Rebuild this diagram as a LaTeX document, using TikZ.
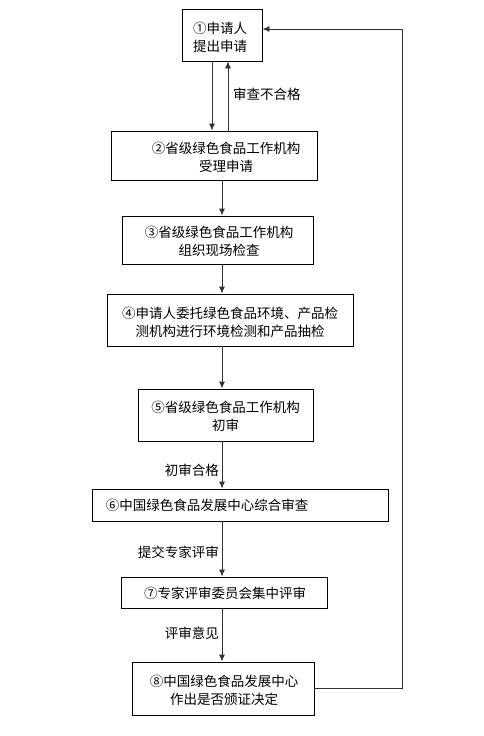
\documentclass[tikz,border=0pt]{standalone}
\usepackage{fontspec}
\newfontfamily\cjk{Noto Sans CJK SC}
\usetikzlibrary{arrows.meta}
\tikzset{
  box/.style={draw=black, line width=0.9pt, inner sep=0pt},
  txt/.style={font=\cjk\fontsize{13.5}{18}\selectfont, align=center, inner sep=0pt, text=black},
  lbl/.style={font=\cjk\fontsize{13.5}{18}\selectfont, inner sep=0pt, text=black},
  arr/.style={draw=black!80, line width=0.9pt, -{Latex[length=7pt,width=6pt]}},
}
\begin{document}
\begin{tikzpicture}[x=1pt,y=-1pt]
\useasboundingbox (0,0) rectangle (484,736);
% boxes
\node[box, minimum width=80pt, minimum height=52pt] (b1) at (222,35) {};
\node[box, minimum width=206pt, minimum height=49pt] (b2) at (214,155.5) {};
\node[box, minimum width=191pt, minimum height=48pt] (b3) at (217.5,240) {};
\node[box, minimum width=246pt, minimum height=52pt] (b4) at (230,320) {};
\node[box, minimum width=175pt, minimum height=52pt] (b5) at (225.5,415) {};
\node[box, minimum width=296pt, minimum height=32pt] (b6) at (240,505) {};
\node[box, minimum width=206pt, minimum height=31pt] (b7) at (224,592.5) {};
\node[box, minimum width=182pt, minimum height=53pt] (b8) at (223,688.5) {};
% texts
\node[txt] (t1) at (220,37) {①申请人\\提出申请};
\node[txt] (t2) at (226,157) {②省级绿色食品工作机构\\受理申请};
\node[txt] (t3) at (219,241) {③省级绿色食品工作机构\\组织现场检查};
\node[txt] (t4) at (230,322) {④申请人委托绿色食品环境、产品检\\测机构进行环境检测和产品抽检};
\node[txt] (t5) at (225.5,416) {⑤省级绿色食品工作机构\\初审};
\node[txt] (t6) at (207,505) {⑥中国绿色食品发展中心综合审查};
\node[txt] (t7) at (225,593) {⑦专家评审委员会集中评审};
\node[txt] (t8) at (224,690) {⑧中国绿色食品发展中心\\作出是否颁证决定};
% connectors
\draw[arr] (212,0 |- b1.south) -- (212,0 |- b2.north);
\draw[arr] (228,0 |- b2.north) -- (228,0 |- b1.south);
\node[lbl, anchor=west] (l1) at (233,94) {审查不合格};
\draw[arr] (222,0 |- b2.south) -- (222,0 |- b3.north);
\draw[arr] (222,0 |- b3.south) -- (222,0 |- b4.north);
\draw[arr] (222,0 |- b4.south) -- (222,0 |- b5.north);
\draw[arr] (222,0 |- b5.south) -- (222,0 |- b6.north);
\node[lbl, anchor=east] (l2) at (219,470) {初审合格};
\draw[arr] (222,0 |- b6.south) -- (222,0 |- b7.north);
\node[lbl, anchor=east] (l3) at (219,552) {提交专家评审};
\draw[arr] (222,0 |- b7.south) -- (222,0 |- b8.north);
\node[lbl, anchor=east] (l4) at (219,633) {评审意见};
\coordinate (fb) at (402,29);
\draw[arr] (b8.east) -| (fb) -- (b1.east |- fb);
\end{tikzpicture}
\end{document}
